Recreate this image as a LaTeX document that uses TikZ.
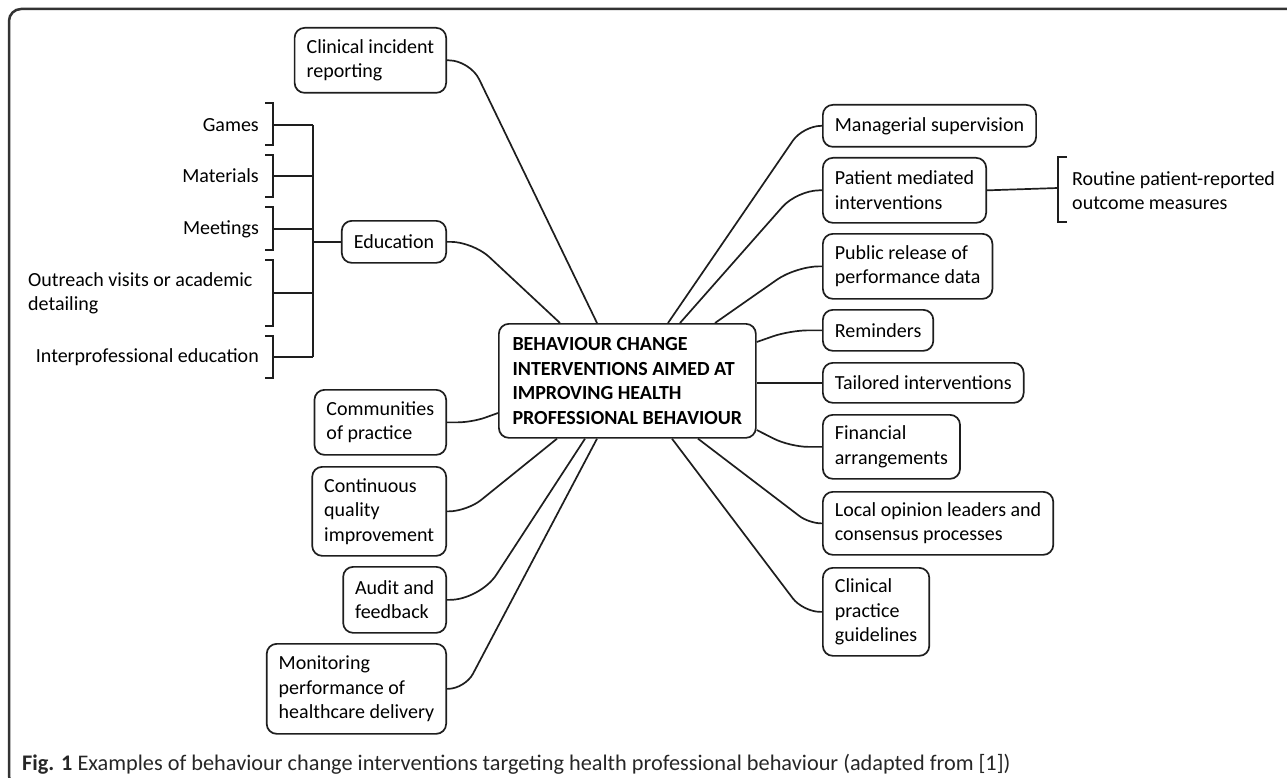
\documentclass[tikz,border=0pt]{standalone}
\usepackage{fontspec}
\setmainfont{Carlito}
\usetikzlibrary{calc}
\definecolor{ln}{HTML}{1E1E1E}
\begin{document}
\begin{tikzpicture}[x=1pt,y=-1pt,
  every node/.style={font=\fontsize{20}{24.5}\selectfont, text=black},
  box/.style={draw=ln, line width=1.7pt, rounded corners=10pt, align=left, inner xsep=12pt, inner ysep=3pt},
  conn/.style={draw=ln, line width=1.7pt},
  brk/.style={draw=ln, line width=1.7pt},
  lbl/.style={inner sep=0pt, align=left},
  frame/.style={draw=black!80, line width=2.5pt, rounded corners=12pt}]
\useasboundingbox (0,0) rectangle (1287,778);
% frame
\draw[frame] (40,788) -- (9,788) -- (9,9) -- (1300,9);

% central node
\node[box, anchor=north west, minimum width=257pt, minimum height=114pt, font=\fontsize{20}{24.5}\selectfont\bfseries] (c) at (498,323)
  {BEHAVIOUR CHANGE\\INTERVENTIONS AIMED AT\\IMPROVING HEALTH\\PROFESSIONAL BEHAVIOUR};

% left boxes
\node[box, anchor=north east, minimum height=65pt] (inc) at (447,27) {Clinical incident\\reporting};
\node[box, anchor=north east, minimum height=42pt] (edu) at (447,220) {Education};
\node[box, anchor=north east, minimum height=65pt] (com) at (447,389) {Communities\\of practice};
\node[box, anchor=north east, minimum height=89pt] (cqi) at (447,466) {Continuous\\quality\\improvement};
\node[box, anchor=north east, minimum height=66pt] (aud) at (447,566) {Audit and\\feedback};
\node[box, anchor=north east, minimum height=90pt] (mon) at (447,643) {Monitoring\\performance of\\healthcare delivery};

% right boxes
\node[box, anchor=north west, minimum height=42pt] (mgr) at (822,104) {Managerial supervision};
\node[box, anchor=north west, minimum height=65pt] (pat) at (822,157) {Patient mediated\\interventions};
\node[box, anchor=north west, minimum height=65pt] (pub) at (822,233) {Public release of\\performance data};
\node[box, anchor=north west, minimum height=41pt] (rem) at (822,309) {Reminders};
\node[box, anchor=north west, minimum height=40pt] (tai) at (822,362) {Tailored interventions};
\node[box, anchor=north west, minimum height=64pt] (fin) at (822,414) {Financial\\arrangements};
\node[box, anchor=north west, minimum height=63pt] (loc) at (822,491) {Local opinion leaders and\\consensus processes};
\node[box, anchor=north west, minimum height=88pt] (cpg) at (822,567) {Clinical\\practice\\guidelines};

% routine outcome measures
\node[lbl, anchor=west] (rout) at (1072,190.5) {Routine patient-reported\\outcome measures};
\coordinate (rb) at (1058,188);
\draw[brk] (1067,157) -- (1058,157) -- (1058,222) -- (1067,222);
\draw[conn] (pat.east) -- (rb);

% education sub-items
\node[lbl, anchor=east] (gam) at (259,125) {Games};
\node[lbl, anchor=east] (mat) at (259,176) {Materials};
\node[lbl, anchor=east] (mee) at (259,229) {Meetings};
\node[lbl, anchor=west] (out) at (28,293.5) {Outreach visits or academic\\detailing};
\node[lbl, anchor=east] (ipe) at (259,357) {Interprofessional education};

\draw[brk] (265,103) -- (273,103) -- (273,145) -- (265,145);
\draw[brk] (265,155) -- (273,155) -- (273,197) -- (265,197);
\draw[brk] (265,207) -- (273,207) -- (273,250) -- (265,250);
\draw[brk] (265,260) -- (273,260) -- (273,326) -- (265,326);
\draw[brk] (265,336) -- (273,336) -- (273,378) -- (265,378);

\coordinate (gb) at (273,125);
\coordinate (mb) at (273,176);
\coordinate (eb) at (273,229);
\coordinate (ob) at (273,293);
\coordinate (ib) at (273,357);
\coordinate (tt) at (313,125);
\coordinate (tb) at (313,357);
\draw[conn] (tt) -- (tb);
\draw[conn] (gb) -- (gb -| tt);
\draw[conn] (mb) -- (mb -| tt);
\draw[conn] (eb) -- (eb -| tt);
\draw[conn] (ob) -- (ob -| tt);
\draw[conn] (ib) -- (ib -| tt);
\draw[conn] (edu.west -| tt) -- (edu.west);

% connectors to the centre
\draw[conn, rounded corners=21pt] (inc.east) -- ++(23,0) -- ($(c.north west)+(99,0)$);
\draw[conn, rounded corners=22pt] (edu.east) -- ++(26,0) -- ($(c.north west)+(62,0)$);
\draw[conn, rounded corners=14pt] (com.east) -- ++(25,0) -- ($(c.north west)+(0,90)$);
\draw[conn, rounded corners=18pt] (cqi.east) -- ++(20,0) -- ($(c.south west)+(59,0)$);
\draw[conn, rounded corners=30pt] (aud.east) -- ++(33,0) -- ($(c.south west)+(87,0)$);
\draw[conn, rounded corners=17pt] (mon.east) -- ++(18,0) -- ($(c.south west)+(99,0)$);

\draw[conn, rounded corners=18pt] (mgr.west) -- ++(-19,0) -- ($(c.north west)+(170,0)$);
\draw[conn, rounded corners=22pt] (pat.west) -- ++(-25,0) -- ($(c.north west)+(182,0)$);
\draw[conn, rounded corners=23pt] (pub.west) -- ++(-26,0) -- ($(c.north west)+(217,0)$);
\draw[conn, rounded corners=18pt] (rem.west) -- ++(-32,0) -- ($(c.north east)+(0,19)$);
\draw[conn] (tai.west) -- (tai.west -| c.east);
\draw[conn, rounded corners=18pt] (fin.west) -- ++(-32,0) -- ($(c.north east)+(0,107)$);
\draw[conn, rounded corners=12pt] (loc.west) -- ++(-13,0) -- ($(c.south west)+(200,0)$);
\draw[conn, rounded corners=17pt] (cpg.west) -- ++(-19,0) -- ($(c.south west)+(174,0)$);

% caption
\node[lbl, anchor=west, font=\fontsize{22.3}{26}\selectfont, text=black!85] (cap) at (22,764)
  {\textbf{Fig. 1} Examples of behaviour change interventions targeting health professional behaviour (adapted from [1])};
\end{tikzpicture}
\end{document}
